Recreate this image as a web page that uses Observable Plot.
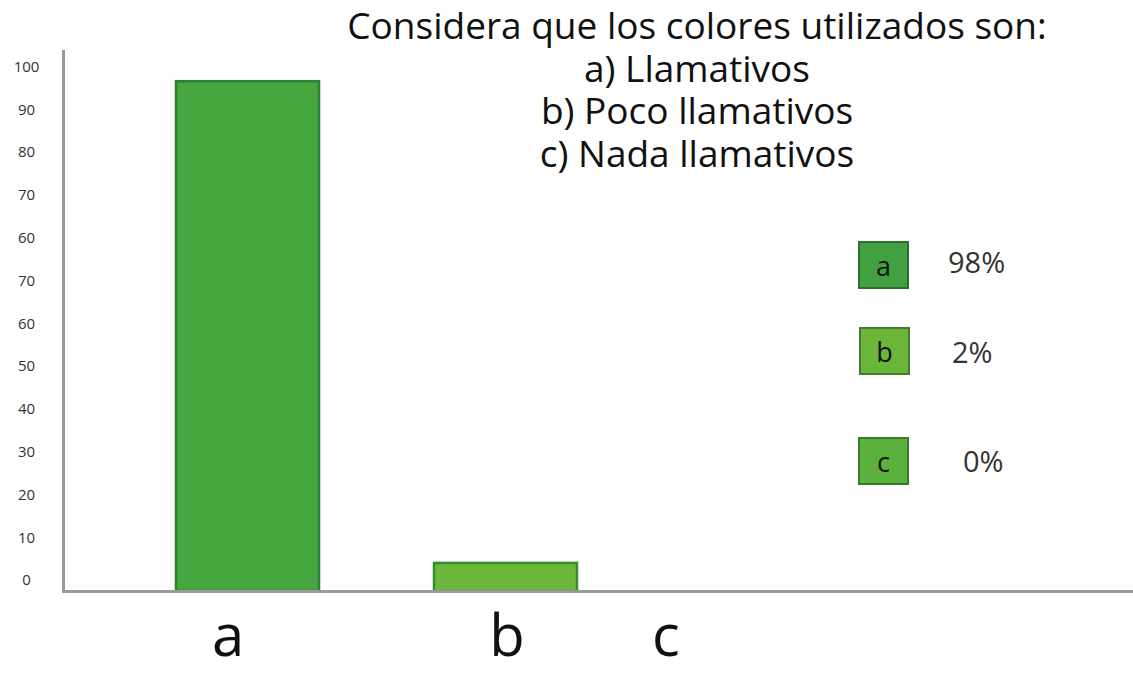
<!DOCTYPE html>
<html>
<head>
<meta charset="utf-8">
<script src="https://cdn.jsdelivr.net/npm/d3@7"></script>
<script src="https://cdn.jsdelivr.net/npm/@observablehq/plot@0.6"></script>
<style>
  html, body { margin: 0; padding: 0; background: #fff; }
  #wrap { position: relative; width: 1133px; height: 673px; overflow: hidden; font-family: "Open Sans", sans-serif; }
  #title { position: absolute; left: 297px; width: 800px; top: 4px; text-align: center; font-size: 37px; line-height: 42.5px; color: #111; }
  .leg { position: absolute; display: flex; align-items: center; }
  .leg .box { width: 47px; height: 44px; border: 2px solid #2f7a2f; display: flex; align-items: center; justify-content: center; font-size: 27px; color: #111; box-sizing: content-box; }
</style>
</head>
<body>
<div id="wrap">
  <div id="chart"></div>
  <div id="title"></div>
  <div id="legend"></div>
</div>
<script>
// ---- data ----
const categories = ["a", "b", "c"];
const barValues = [98, 5.4, 0];            // bar heights as drawn
const legendKeys = ["a", "b", "c"];
const legendLabels = ["98%", "2%", "0%"];
const yTickLabels = ["0", "10", "20", "30", "40", "50", "60", "70", "60", "70", "80", "90", "100"];
const titleLines = [
  "Considera que los colores utilizados son:",
  "a) Llamativos",
  "b) Poco llamativos",
  "c) Nada llamativos"
];

// ---- styles ----
const barFill = {a: "#46a640", b: "#6cb83a", c: "#5fae3c"};
const barStroke = {a: "#2e7f33", b: "#3b8a2f", c: "#3b8a2f"};
const legendFill = {a: "#42a043", b: "#6ab53a", c: "#5cb03c"};
const legendStroke = {a: "#2d6f2d", b: "#3f7d2f", c: "#3a7a2e"};
const legendPos = [{box: [858, 241], pct: [948, 262]}, {box: [859, 327], pct: [952, 352]}, {box: [858, 437], pct: [963, 461]}];
const xLabelDx = [-20, 1, -98];

const table = categories.map((c, i) => ({cat: c, value: barValues[i]}));
const tickVals = yTickLabels.map((_, i) => 2.11 + 8.224 * i);

const font = '"Open Sans", sans-serif';
const chart = Plot.plot({
  width: 1133,
  height: 673,
  marginTop: 51,
  marginBottom: 82,
  marginLeft: 63,
  marginRight: 0,
  style: {fontFamily: font, background: "transparent"},
  x: {domain: categories, range: [117.5, 893], paddingInner: 0.445, paddingOuter: 0.2225, axis: null},
  y: {domain: [0, 103.8], axis: null},
  marks: [
    Plot.barY(table.filter(d => d.value > 0), {
      x: "cat", y: "value",
      fill: d => barFill[d.cat], stroke: d => barStroke[d.cat], strokeWidth: 2.5
    }),
    Plot.frame({anchor: "left", stroke: "#9a9a9a", strokeWidth: 3}),
    Plot.ruleY([0], {stroke: "#9a9a9a", strokeWidth: 3}),
    Plot.axisY(tickVals, {
      label: null, tickSize: 0, tickPadding: 37, textAnchor: "middle",
      tickFormat: (d, i) => yTickLabels[i], fontSize: 15, fill: "#333"
    }),
    ...categories.map((c, i) => Plot.axisX([c], {
      label: null, tickSize: 0, tickPadding: 23, dx: xLabelDx[i], fontSize: 58, fill: "#111"
    }))
  ]
});
document.getElementById("chart").appendChild(chart);

document.getElementById("title").innerHTML = titleLines.map(t => `<div>${t}</div>`).join("");

const leg = document.getElementById("legend");
legendKeys.forEach((k, i) => {
  const p = legendPos[i];
  const box = document.createElement("div");
  box.className = "leg";
  box.style.left = p.box[0] + "px";
  box.style.top = p.box[1] + "px";
  box.innerHTML = `<div class="box" style="background:${legendFill[k]};border-color:${legendStroke[k]}">${k}</div>`;
  leg.appendChild(box);
  const pct = document.createElement("div");
  pct.className = "leg";
  pct.style.left = p.pct[0] + "px";
  pct.style.top = (p.pct[1] - 20) + "px";
  pct.innerHTML = `<span style="font-size:29px;color:#333">${legendLabels[i]}</span>`;
  leg.appendChild(pct);
});
</script>
</body>
</html>
